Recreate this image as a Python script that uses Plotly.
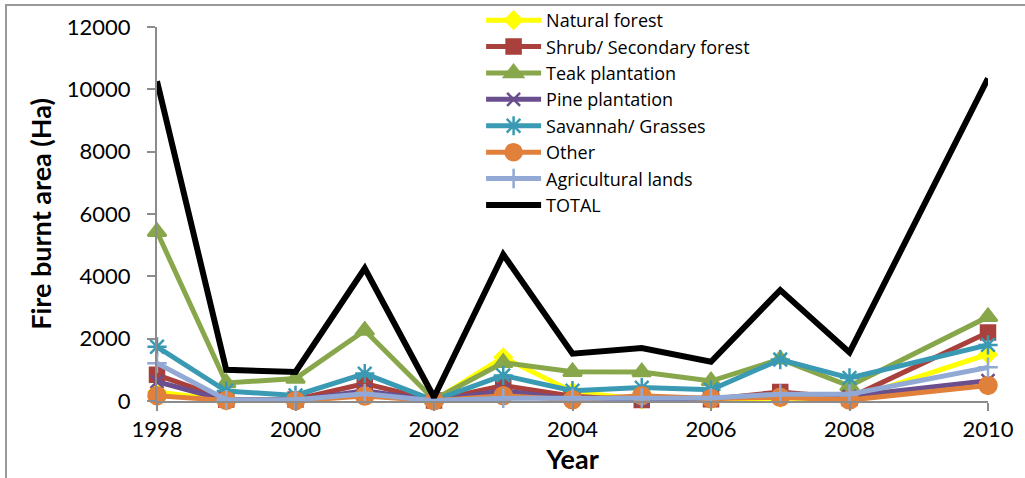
import plotly.graph_objects as go

years = [1998, 1999, 2000, 2001, 2002, 2003, 2004, 2005, 2006, 2007, 2008, 2010]

natural_forest = [290, 20, 30, 200, 20, 1400, 300, 50, 30, 100, 50, 1500]
shrub_secondary = [840, 50, 50, 560, 20, 500, 150, 30, 60, 290, 100, 2200]
teak_plantation = [5430, 580, 720, 2260, 50, 1230, 940, 930, 640, 1340, 480, 2700]
pine_plantation = [620, 20, 20, 330, 10, 330, 50, 50, 100, 150, 150, 650]
savannah_grasses = [1740, 320, 180, 880, 20, 820, 330, 430, 360, 1330, 740, 1800]
other = [170, 20, 10, 160, 10, 170, 40, 170, 80, 120, 30, 500]
agricultural = [1210, 40, 40, 230, 10, 90, 90, 100, 100, 220, 220, 1080]
total = [10260, 1000, 930, 4260, 120, 4700, 1520, 1700, 1260, 3560, 1560, 10350]

series = [
    ("Natural forest", natural_forest, "#FFFF00", "diamond", 13),
    ("Shrub/ Secondary forest", shrub_secondary, "#A9403C", "square", 14),
    ("Teak plantation", teak_plantation, "#88A74B", "triangle-up", 16),
    ("Pine plantation", pine_plantation, "#6A4E8D", "x-thin", 13),
    ("Savannah/ Grasses", savannah_grasses, "#3A9AB3", "asterisk", 16),
    ("Other", other, "#E0803A", "circle", 17),
    ("Agricultural lands", agricultural, "#91A9D4", "cross-thin", 14),
]

font_family = "Lato, 'Open Sans', sans-serif"

fig = go.Figure()
for name, vals, color, sym, size in series:
    fig.add_trace(go.Scatter(
        x=years, y=vals, name=name, mode="lines+markers",
        line=dict(color=color, width=5),
        marker=dict(symbol=sym, size=size, color=color,
                    line=dict(color=color, width=2.5)),
        cliponaxis=False,
    ))
fig.add_trace(go.Scatter(
    x=years, y=total, name="TOTAL", mode="lines",
    line=dict(color="#000000", width=6),
    cliponaxis=False,
))

fig.update_layout(
    width=1025, height=478,
    margin=dict(l=157, r=37, t=27, b=77, autoexpand=False),
    paper_bgcolor="white", plot_bgcolor="white",
    font=dict(family=font_family, size=22, color="#000000"),
    showlegend=True,
    legend=dict(
        x=0.39, y=1.067, xanchor="left", yanchor="top",
        font=dict(family="'Open Sans', Lato, sans-serif", size=18, color="#000000"),
        bgcolor="rgba(0,0,0,0)", tracegroupgap=0,
        itemwidth=55, traceorder="normal",
    ),
    xaxis=dict(
        range=[1998, 2010], tick0=1998, dtick=2,
        showgrid=False, zeroline=False,
        showline=True, linecolor="#8c8c8c", linewidth=2,
        ticks="outside", ticklen=8, tickcolor="#8c8c8c", tickwidth=2,
        tickfont=dict(size=22), tickformat="d",
        title=dict(text="<b>Year</b>", font=dict(size=27), standoff=7),
    ),
    yaxis=dict(
        range=[0, 12000], dtick=2000,
        showgrid=False, zeroline=False,
        showline=True, linecolor="#8c8c8c", linewidth=2,
        ticks="outside", ticklen=8, tickcolor="#8c8c8c", tickwidth=2,
        tickfont=dict(size=22), tickformat="d", ticklabelstandoff=12,
        title=dict(text="<b>Fire burnt area (Ha)</b>", font=dict(size=27), standoff=7),
    ),
    shapes=[dict(
        type="rect", xref="paper", yref="paper",
        x0=-0.1817, x1=1.1, y0=-0.3, y1=1.0588,
        line=dict(color="#999999", width=2), fillcolor="rgba(0,0,0,0)",
        layer="below",
    )],
)

fig.write_html(
    "out.html",
    config={"displayModeBar": False},
    post_script="document.body.style.margin='0';document.body.style.overflow='hidden';",
)
